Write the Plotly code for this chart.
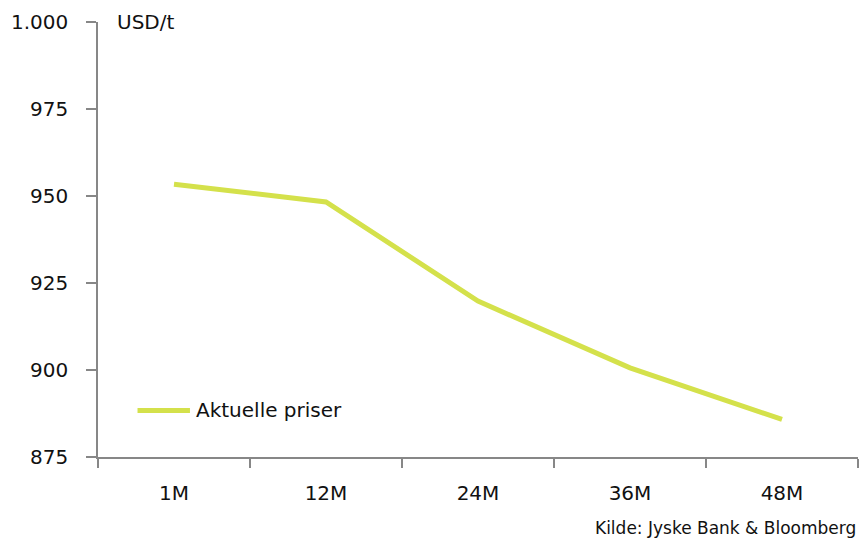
import plotly.graph_objects as go

# Forward curve, USD per tonne
maturities = ["1M", "12M", "24M", "36M", "48M"]
prices = [953.4, 948.3, 919.8, 900.6, 885.8]
y_ticks = [875, 900, 925, 950, 975, 1000]

series_name = "Aktuelle priser"
unit_label = "USD/t"
source_note = "Kilde: Jyske Bank & Bloomberg"

line_color = "#D4E14B"
axis_color = "#878787"
font_family = "DejaVu Sans, Verdana, sans-serif"

fig = go.Figure()
fig.add_trace(go.Scatter(
    x=maturities,
    y=prices,
    mode="lines",
    name=series_name,
    line=dict(color=line_color, width=5),
    showlegend=False,
))

fig.update_layout(
    width=862,
    height=541,
    margin=dict(l=98, r=4, t=22, b=84),
    paper_bgcolor="white",
    plot_bgcolor="white",
    separators=",.",
    font=dict(family=font_family, size=20, color="#111111"),
    xaxis=dict(
        type="category",
        range=[-0.5, 4.5],
        showline=True,
        linecolor=axis_color,
        linewidth=1.5,
        showgrid=False,
        zeroline=False,
        ticks="outside",
        tickson="boundaries",
        ticklen=9,
        tickwidth=1.5,
        tickcolor=axis_color,
        ticklabelstandoff=17,
    ),
    yaxis=dict(
        range=[875, 1000],
        tickvals=y_ticks,
        tickformat=",d",
        showline=True,
        linecolor=axis_color,
        linewidth=1.5,
        showgrid=False,
        zeroline=False,
        ticks="outside",
        ticklen=10,
        tickwidth=1.5,
        tickcolor=axis_color,
        ticklabelstandoff=14,
    ),
    showlegend=False,
)

# Unit label in the top-left corner of the plot area
fig.add_annotation(
    x=0.022, y=1.0, xref="paper", yref="paper",
    xanchor="left", yanchor="middle",
    text=unit_label, showarrow=False,
    font=dict(size=20),
)

# Legend key drawn inside the plot area
fig.add_shape(
    type="line", xref="paper", yref="paper",
    x0=0.052, x1=0.121, y0=0.107, y1=0.107,
    line=dict(color=line_color, width=5),
)
fig.add_annotation(
    x=0.126, y=0.107, xref="paper", yref="paper",
    xanchor="left", yanchor="middle",
    text=series_name, showarrow=False,
    font=dict(size=20),
)

# Source note below the axis
fig.add_annotation(
    x=1.0, y=-0.164, xref="paper", yref="paper",
    xanchor="right", yanchor="middle",
    text=source_note, showarrow=False,
    font=dict(size=17),
)

fig.write_html("out.html")
